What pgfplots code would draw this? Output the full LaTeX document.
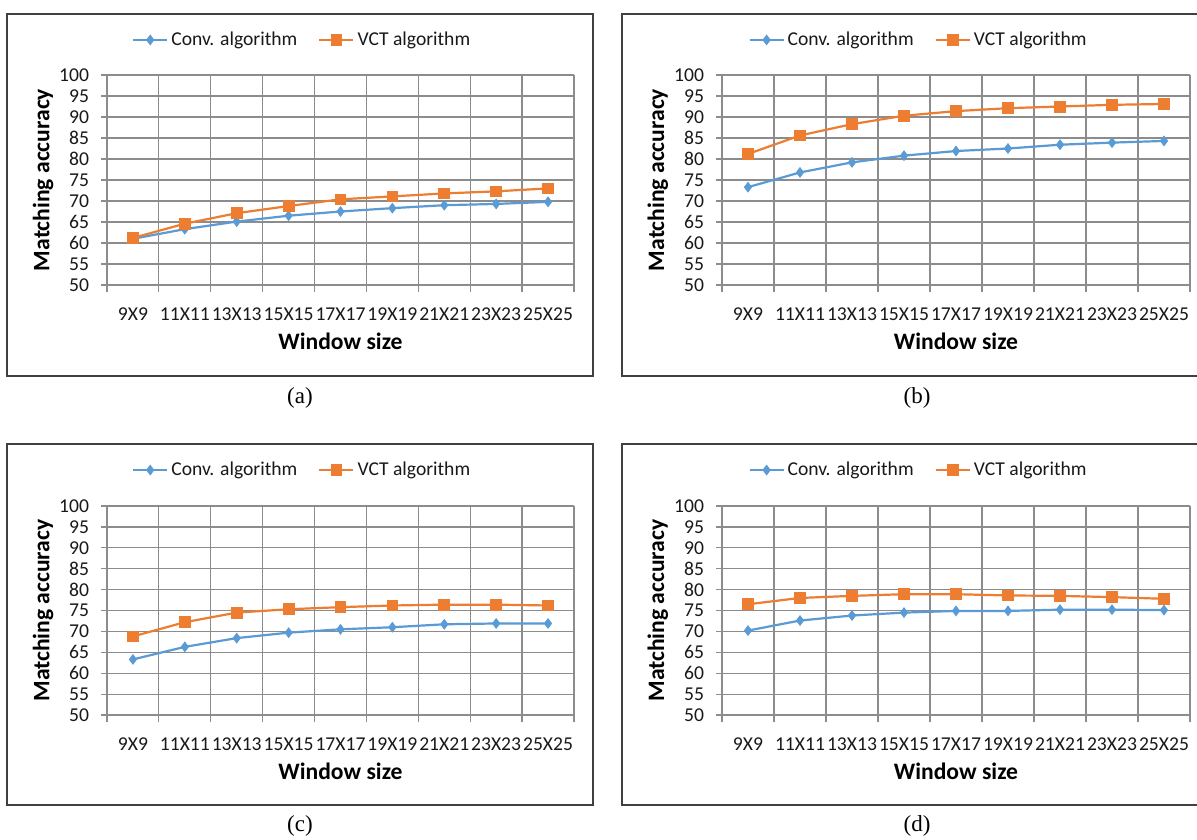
\documentclass[border=0pt]{standalone}
\usepackage{pgfplots}
\pgfplotsset{compat=1.18}
\usepackage{fontspec}
\setmainfont{Carlito}
\newfontfamily\capfont{Liberation Serif}

\definecolor{convblue}{HTML}{5B9BD5}
\definecolor{vctorange}{HTML}{ED7D31}
\definecolor{gridgray}{HTML}{8C8C8C}
\definecolor{framegray}{HTML}{404040}

\pgfplotsset{
  panel/.style={
    scale only axis,
    width=233.5pt, height=105pt,
    xmin=0.5, xmax=9.5, ymin=50, ymax=100,
    xtick={1,...,9},
    xticklabels={9X9,11X11,13X13,15X15,17X17,19X19,21X21,23X23,25X25},
    minor xtick={0.5,1.5,...,9.5},
    xminorgrids, ymajorgrids,
    ytick={50,55,...,100},
    major x tick style={draw=none},
    tick align=outside, tick pos=left,
    major tick length=3pt, minor tick length=3.5pt,
    every tick/.style={gridgray, line width=0.6pt},
    minor x tick style={gridgray, line width=0.6pt},
    grid style={gridgray, line width=0.6pt},
    minor grid style={gridgray, line width=0.6pt},
    axis line style={gridgray, line width=0.6pt},
    axis x line*=bottom, axis y line*=left,
    /pgf/number format/assume math mode=true,
    tick label style={font=\fontsize{9.8}{10}\selectfont, text=black!90},
    xticklabel style={anchor=center, yshift=-11.8pt},
    yticklabel style={anchor=east, xshift=-2.5pt},
    xlabel={Window size},
    ylabel={Matching accuracy},
    label style={font=\fontsize{11.8}{12}\selectfont\bfseries},
    xlabel style={at={(rel axis cs:0.5,-0.27)}, anchor=center},
    ylabel style={at={(rel axis cs:-0.137,0.5)}, anchor=center, rotate=0},
    legend columns=2,
    legend style={draw=none, fill=none, font=\fontsize{9.8}{10}\selectfont,
      text=black!90,
      at={(rel axis cs:0.417,1.17)}, anchor=center,
      /tikz/every even column/.append style={column sep=9pt},
      nodes={inner xsep=1.5pt},
      inner sep=0pt},
    legend image code/.code={%
      \draw[mark repeat=2,mark phase=2]
        plot coordinates {(0pt,0pt) (8.5pt,0pt) (17pt,0pt)};},
  },
  conv/.style={convblue, line width=1.1pt, mark=diamond*, mark size=2.4pt,
    mark options={fill=convblue, draw=convblue, line width=0.4pt}},
  vct/.style={vctorange, line width=1.1pt, mark=square*, mark size=2.7pt,
    mark options={fill=vctorange, draw=vctorange, line width=0.4pt}},
}

\begin{document}
\begin{tikzpicture}
\useasboundingbox (0pt,0pt) rectangle (598.5pt,-419.5pt);
\fill[white] (0pt,0pt) rectangle (598.5pt,-419.5pt);

% frames
\draw[framegray, line width=0.8pt] (3.5pt,-7pt) rectangle (296.5pt,-188pt);
\draw[framegray, line width=0.8pt] (311pt,-7pt) rectangle (600pt,-188pt);
\draw[framegray, line width=0.8pt] (3.5pt,-222pt) rectangle (296.5pt,-402.5pt);
\draw[framegray, line width=0.8pt] (311pt,-222pt) rectangle (600pt,-402.5pt);

% (a)
\begin{axis}[panel, at={(53.5pt,-142.5pt)}, anchor=south west,
  legend style={at={(rel axis cs:0.419,1.167)}}]
\addplot[conv] coordinates {(1,61.0) (2,63.3) (3,65.1) (4,66.5) (5,67.5) (6,68.3) (7,69.0) (8,69.3) (9,69.8)};
\addplot[vct] coordinates {(1,61.2) (2,64.6) (3,67.1) (4,68.8) (5,70.4) (6,71.1) (7,71.8) (8,72.3) (9,73.0)};
\legend{Conv. algorithm, VCT algorithm}
\end{axis}

% (b)
\begin{axis}[panel, width=234pt, at={(361pt,-142.5pt)}, anchor=south west,
  legend style={at={(rel axis cs:0.421,1.167)}}]
\addplot[conv] coordinates {(1,73.3) (2,76.8) (3,79.2) (4,80.8) (5,81.9) (6,82.5) (7,83.4) (8,83.9) (9,84.3)};
\addplot[vct] coordinates {(1,81.2) (2,85.6) (3,88.3) (4,90.3) (5,91.4) (6,92.1) (7,92.5) (8,92.9) (9,93.1)};
\legend{Conv. algorithm, VCT algorithm}
\end{axis}

% (c)
\begin{axis}[panel, height=104.5pt, at={(53.5pt,-357.5pt)}, anchor=south west,
  legend style={at={(rel axis cs:0.419,1.172)}}]
\addplot[conv] coordinates {(1,63.3) (2,66.3) (3,68.4) (4,69.7) (5,70.5) (6,71.0) (7,71.7) (8,71.9) (9,71.9)};
\addplot[vct] coordinates {(1,68.8) (2,72.2) (3,74.5) (4,75.3) (5,75.8) (6,76.2) (7,76.4) (8,76.4) (9,76.2)};
\legend{Conv. algorithm, VCT algorithm}
\end{axis}

% (d)
\begin{axis}[panel, width=234pt, height=104.5pt, at={(361pt,-357.5pt)}, anchor=south west,
  legend style={at={(rel axis cs:0.421,1.172)}}]
\addplot[conv] coordinates {(1,70.2) (2,72.6) (3,73.8) (4,74.5) (5,74.9) (6,74.9) (7,75.2) (8,75.2) (9,75.1)};
\addplot[vct] coordinates {(1,76.5) (2,78.0) (3,78.5) (4,78.9) (5,78.9) (6,78.6) (7,78.5) (8,78.2) (9,77.8)};
\legend{Conv. algorithm, VCT algorithm}
\end{axis}

% captions
\node[font=\capfont\fontsize{11.5}{12}\selectfont] at (150pt,-199pt) {(a)};
\node[font=\capfont\fontsize{11.5}{12}\selectfont] at (458.5pt,-199pt) {(b)};
\node[font=\capfont\fontsize{11.5}{12}\selectfont] at (150pt,-413pt) {(c)};
\node[font=\capfont\fontsize{11.5}{12}\selectfont] at (458.5pt,-413pt) {(d)};
\end{tikzpicture}
\end{document}
